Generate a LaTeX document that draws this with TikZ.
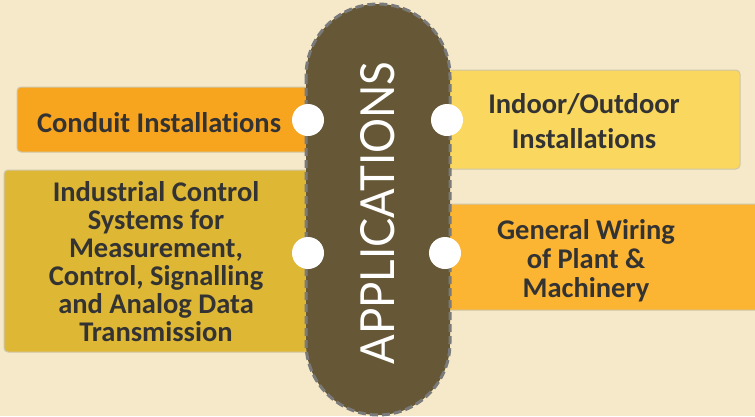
\documentclass[tikz,border=0pt]{standalone}
\usepackage{fontspec}
\setmainfont{Carlito}[Ligatures={NoCommon}]
\newfontfamily\appfont{Lato}[Ligatures={NoCommon}]
\usepackage{graphicx}
\definecolor{bg}{HTML}{F5E9C9}
\definecolor{conduit}{HTML}{F7A41E}
\definecolor{indoor}{HTML}{FAD85F}
\definecolor{industrial}{HTML}{DEB735}
\definecolor{general}{HTML}{FBB532}
\definecolor{pillc}{HTML}{665837}
\definecolor{dashc}{HTML}{7A7A7A}
\definecolor{txtc}{HTML}{333333}
\definecolor{edgec}{HTML}{D0C6A8}
\begin{document}
\begin{tikzpicture}[x=1pt,y=-1pt,
  box/.style={draw=edgec, line width=1pt, rounded corners=4pt, inner sep=0pt, rectangle},
  pill/.style={fill=pillc, draw=dashc, line width=3pt, dash pattern=on 8pt off 4pt, rounded corners=72pt},
  dot/.style={circle, fill=white, minimum size=32pt, inner sep=0pt},
  txt/.style={text=txtc, font=\bfseries\fontsize{28.5}{28}\selectfont, align=center, inner sep=0pt}]
\useasboundingbox (0,0) rectangle (755,416);
\clip (0,0) rectangle (755,416);
\fill[bg] (0,0) rectangle (755,416);
% boxes
\node[box, fill=conduit, minimum width=313pt, minimum height=65pt] (b1) at (173.5,119.5) {};
\node[box, fill=indoor, minimum width=315pt, minimum height=99pt] (b2) at (582.5,119.5) {};
\node[box, fill=industrial, minimum width=326pt, minimum height=182pt] (b3) at (167,261) {};
\node[box, fill=general, minimum width=340pt, minimum height=106pt] (b4) at (600,257) {};
% central pill
\draw[pill] (306,4) rectangle (450,415);
\node[rotate=90, text=white, inner sep=0pt] (app) at (378,213)
  {\resizebox{303pt}{34pt}{\appfont APPLICATIONS}};
% dots
\node[dot] (d1) at (308,120) {};
\node[dot] (d2) at (447,120) {};
\node[dot] (d3) at (308,253) {};
\node[dot] (d4) at (445,253) {};
% texts
\node[txt] (t1) at (159,123) {Conduit Installations};
\node[txt, font=\bfseries\fontsize{28.5}{35}\selectfont] (t2) at (584,121) {Indoor/Outdoor\\Installations};
\node[txt] (t3) at (156,262) {Industrial Control\\Systems for\\Measurement,\\Control, Signalling\\and Analog Data\\Transmission};
\node[txt, font=\bfseries\fontsize{28.5}{29}\selectfont] (t4) at (586,261) {General Wiring\\of Plant \&\\Machinery};
\end{tikzpicture}
\end{document}
